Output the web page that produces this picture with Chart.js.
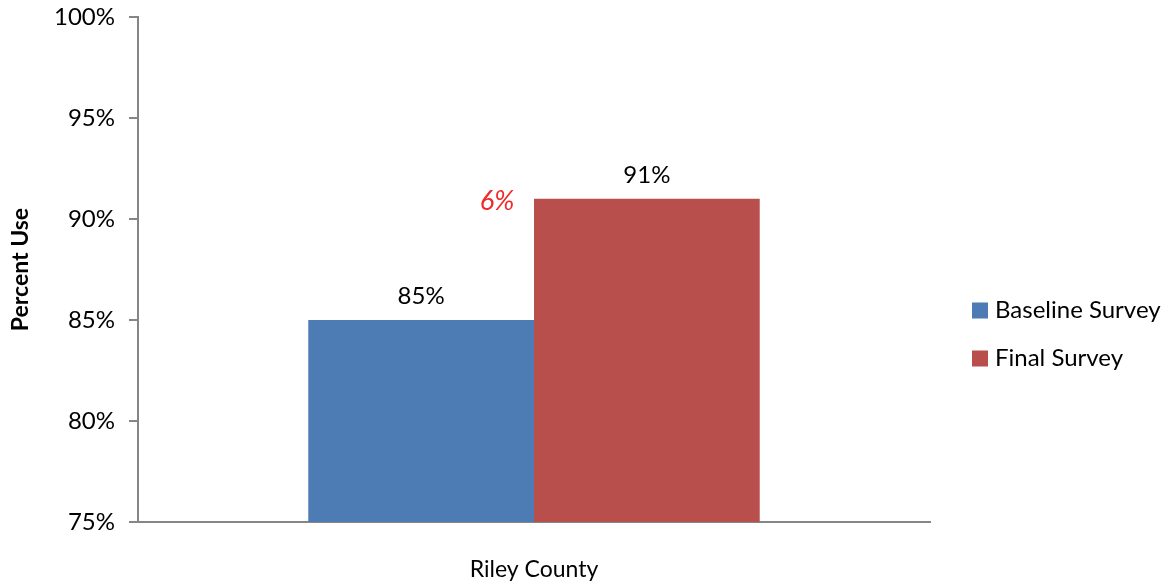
<!DOCTYPE html>
<html>
<head>
<meta charset="utf-8">
<script src="https://cdn.jsdelivr.net/npm/chart.js@4"></script>
<style>
  html, body { margin: 0; padding: 0; background: #fff; }
  #wrap { width: 1172px; height: 587px; }
</style>
</head>
<body>
<div id="wrap"><canvas id="chart"></canvas></div>
<script>
// data
const categories = ['Riley County'];
const seriesNames = ['Baseline Survey', 'Final Survey'];
const baseline = [85];
const finalSurvey = [91];
const yTicks = [75, 80, 85, 90, 95, 100];

const FONT = 'Lato, "Noto Sans", sans-serif';
const AXIS = '#868686';
const colors = ['#4d7bb4', '#b84f4c'];

// value labels above bars + the red change label
const barLabels = {
  id: 'barLabels',
  afterDatasetsDraw(chart) {
    const ctx = chart.ctx;
    ctx.save();
    ctx.font = '24px ' + FONT;
    ctx.fillStyle = '#000';
    ctx.textAlign = 'center';
    ctx.textBaseline = 'middle';
    chart.data.datasets.forEach((ds, i) => {
      chart.getDatasetMeta(i).data.forEach((bar, j) => {
        ctx.fillText(ds.data[j] + '%', bar.x, bar.y - 24);
      });
    });
    const red = chart.getDatasetMeta(1).data[0];
    const diff = finalSurvey[0] - baseline[0];
    ctx.font = 'italic 27px ' + FONT;
    ctx.fillStyle = '#ee2a2a';
    ctx.fillText(diff + '%', red.x - red.width / 2 - 37, red.y + 2);
    ctx.restore();
  }
};

// right side legend
const sideLegend = {
  id: 'sideLegend',
  afterDraw(chart) {
    const ctx = chart.ctx;
    const a = chart.chartArea;
    const mid = (a.top + a.bottom) / 2 + 65;
    ctx.save();
    ctx.font = '24px ' + FONT;
    ctx.textBaseline = 'middle';
    ctx.textAlign = 'left';
    chart.data.datasets.forEach((ds, i) => {
      const y = mid - 24 + i * 48;
      ctx.fillStyle = ds.backgroundColor;
      ctx.fillRect(a.right + 42, y - 8, 16, 16);
      ctx.fillStyle = '#000';
      ctx.fillText(ds.label, a.right + 65, y);
    });
    ctx.restore();
  }
};

new Chart(document.getElementById('chart'), {
  type: 'bar',
  data: {
    labels: categories,
    datasets: [
      { label: seriesNames[0], data: baseline, backgroundColor: colors[0] },
      { label: seriesNames[1], data: finalSurvey, backgroundColor: colors[1] }
    ]
  },
  options: {
    responsive: true,
    maintainAspectRatio: false,
    animation: false,
    categoryPercentage: 0.57,
    barPercentage: 1.0,
    layout: { padding: { top: 17, right: 242, left: 0, bottom: 0 } },
    plugins: {
      legend: { display: false },
      tooltip: { enabled: false }
    },
    scales: {
      x: {
        grid: { display: false, drawTicks: false },
        border: { display: true, color: AXIS, width: 2 },
        ticks: { color: '#000', font: { family: FONT, size: 23 }, padding: 34 },
        afterFit(s) { s.height = 65; }
      },
      y: {
        min: 75,
        max: 100,
        afterBuildTicks(s) { s.ticks = yTicks.map(v => ({ value: v })); },
        grid: { drawOnChartArea: false, tickLength: 9, color: AXIS, lineWidth: 2 },
        border: { display: true, color: AXIS, width: 2 },
        ticks: {
          color: '#000',
          font: { family: FONT, size: 24 },
          padding: 14,
          callback: v => v + '%'
        },
        title: {
          display: true,
          text: 'Percent Use',
          color: '#000',
          font: { family: FONT, size: 23, weight: 'bold' },
          padding: { top: 7, bottom: 0 }
        },
        afterFit(s) {
          s.width = 138;
          s.paddingTop = 0;
          s.paddingBottom = 0;
        }
      }
    }
  },
  plugins: [barLabels, sideLegend]
});
</script>
</body>
</html>
